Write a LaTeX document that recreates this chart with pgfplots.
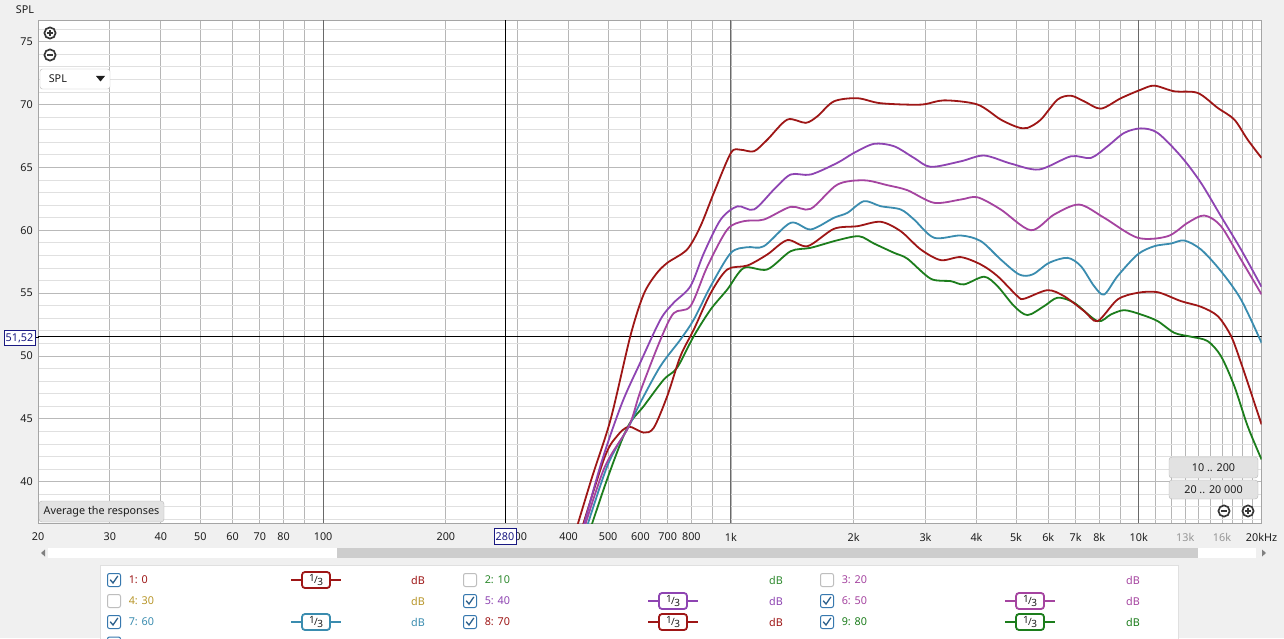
\documentclass[border=0pt]{standalone}
\usepackage{fontspec}
\setmainfont{Noto Sans}
\usepackage{pgfplots}
\pgfplotsset{compat=1.18}
\definecolor{bg}{RGB}{240,240,240}
\definecolor{bordergrey}{RGB}{165,165,165}
\definecolor{vgrid}{RGB}{182,182,182}
\definecolor{hmaj}{RGB}{185,185,185}
\definecolor{hmin}{RGB}{224,224,224}
\definecolor{decade}{RGB}{105,105,105}
\definecolor{cred}{RGB}{158,22,22}
\definecolor{cpurple}{RGB}{142,68,178}
\definecolor{cmag}{RGB}{165,68,160}
\definecolor{cteal}{RGB}{58,140,175}
\definecolor{cgreen}{RGB}{28,125,28}
\definecolor{cgold}{RGB}{184,150,42}
\definecolor{cgreenl}{RGB}{46,138,46}
\definecolor{tickgrey}{RGB}{150,150,150}
\definecolor{navy}{RGB}{25,25,130}
\definecolor{chkblue}{RGB}{55,120,175}
\definecolor{chkgrey}{RGB}{190,190,190}
\definecolor{btnfill}{RGB}{226,226,226}
\definecolor{btnborder}{RGB}{185,185,185}
\definecolor{icon}{RGB}{55,55,55}
\definecolor{txt}{RGB}{30,30,30}
\definecolor{thumb}{RGB}{205,205,205}
\newcommand\uif{\fontsize{10.8}{12}\selectfont}
\newcommand\third{{\fontsize{10}{10}\selectfont\raisebox{1.5pt}{1}\kern-0.6pt/\kern-0.6pt\raisebox{-2pt}{3}}}
\newcommand\cbox[3]{%
  \draw[rounded corners=2, draw=#3, line width=1, fill=white] (#1-6.5,#2-6.5) rectangle (#1+6.5,#2+6.5);}
\newcommand\ccheck[2]{%
  \cbox{#1}{#2}{chkblue}%
  \draw[chkblue!80!black, line width=1.3] (#1-3.8,#2-0.3) -- (#1-1,#2+3) -- (#1+3.8,#2-4);}
\newcommand\badge[3]{%
  \draw[#3, line width=1.6] (#1-25,#2) -- (#1-14,#2) (#1+14,#2) -- (#1+25,#2);
  \draw[#3, line width=1.8, fill=white, rounded corners=3] (#1-14,#2-8) rectangle (#1+14,#2+8);
  \node[text=txt] at (#1,#2) {\third};}
\newcommand\plusicon[2]{%
  \draw[icon, line width=1.7, fill=white] (#1,#2) circle (5.6);
  \draw[icon, line width=1.7] (#1-3.2,#2) -- (#1+3.2,#2) (#1,#2-3.2) -- (#1,#2+3.2);}
\newcommand\minusicon[2]{%
  \draw[icon, line width=1.7, fill=white] (#1,#2) circle (5.6);
  \draw[icon, line width=1.7] (#1-3.2,#2) -- (#1+3.2,#2);}
\begin{document}
\begin{tikzpicture}
\clip (0pt,0pt) rectangle (1284pt,638pt);
\fill[bg] (0pt,0pt) rectangle (1284pt,638pt);
\begin{axis}[
  at={(38pt,115pt)}, anchor=south west,
  scale only axis, width=1223.5pt, height=502.6pt,
  xmode=log, xmin=20, xmax=20000, ymin=36.71, ymax=76.69,
  axis background/.style={fill=white},
  axis line style={draw=bordergrey},
  major tick length=0pt, minor tick length=0pt,
  xtick={20,30,40,50,60,70,80,100,200,300,400,500,600,700,800,1000,2000,3000,4000,5000,6000,7000,8000,10000,13000,16000,20000},
  xticklabels={20,30,40,50,60,70,80,100,200,300,400,500,600,700,800,1k,2k,3k,4k,5k,6k,7k,8k,10k,\textcolor{tickgrey}{13k},\textcolor{tickgrey}{16k},20kHz},
  minor xtick={90,900,9000,11000,12000,14000,15000,17000,18000,19000},
  ytick={40,45,...,75},
  minor ytick={37,38,39,41,42,43,44,46,47,48,49,51,52,53,54,56,57,58,59,61,62,63,64,66,67,68,69,71,72,73,74,76},
  xmajorgrids, xminorgrids, ymajorgrids, yminorgrids,
  major x grid style={draw=vgrid, line width=0.8pt},
  minor x grid style={draw=vgrid, line width=0.8pt},
  major y grid style={draw=hmaj, line width=0.8pt},
  minor y grid style={draw=hmin, line width=0.8pt},
  /pgf/number format/assume math mode=true,
  ticklabel style={font=\uif, text=txt},
  xticklabel style={inner sep=0pt, anchor=center, yshift=-14pt},
  yticklabel style={inner sep=0pt, anchor=east, xshift=-5pt},
]
\addplot[decade, line width=0.9pt] coordinates {(100,36.71) (100,76.69)};
\addplot[decade, line width=0.9pt] coordinates {(1000,36.71) (1000,76.69)};
\addplot[decade, line width=0.9pt] coordinates {(10000,36.71) (10000,76.69)};
\addplot[black, line width=1pt] coordinates {(280,36.71) (280,76.69)};
\addplot[black, line width=1pt] coordinates {(20,51.52) (20000,51.52)};

% 9: 80 green
\addplot[cgreen, line width=1.8pt, smooth] coordinates {
(432,34.3) (497,40.18) (557,44.29) (611,46.0) (685,48.13) (738,49.06) (811,51.58) (892,53.7) (980,55.29) (1076,57.0) (1228,56.88) (1401,58.33) (1569,58.6) (1824,59.2) (2061,59.52) (2243,58.94) (2512,58.2) (2709,57.73) (3090,56.14) (3459,55.95) (3730,55.69) (4177,56.3) (4504,55.55) (4949,53.96) (5336,53.25) (5861,53.96) (6322,54.63) (6944,54.23) (7925,52.77) (8545,53.3) (9210,53.64) (10122,53.3) (11123,52.77) (12218,51.84) (13427,51.53) (14755,51.18) (15906,49.98) (17152,47.6) (18493,44.42) (20000,41.77)};
% 8: 70 red
\addplot[cred, line width=1.8pt, smooth] coordinates {
(412,34.2) (488,41.77) (526,43.63) (562,44.37) (611,43.9) (647,44.29) (698,46.8) (752,49.98) (811,52.1) (892,55.0) (980,56.88) (1097,57.19) (1228,58.07) (1375,59.21) (1541,58.73) (1789,60.11) (2042,60.32) (2329,60.67) (2608,59.92) (2920,58.47) (3270,57.62) (3661,57.86) (4100,57.27) (4504,56.35) (5043,54.75) (5235,54.55) (5974,55.23) (6563,54.75) (7350,53.56) (7925,52.77) (8874,54.49) (9935,55.02) (11123,55.07) (12690,54.36) (14206,53.91) (15615,53.17) (16839,51.58) (17810,49.46) (18848,47.08) (20000,44.55)};
% 7: 60 teal
\addplot[cteal, line width=1.8pt, smooth] coordinates {
(425,34.5) (497,41.2) (562,44.4) (600,46.3) (672,49.2) (752,51.3) (811,52.9) (892,55.55) (1000,58.2) (1097,58.65) (1205,58.73) (1401,60.59) (1569,60.06) (1789,60.99) (1930,61.38) (2120,62.31) (2329,61.91) (2608,61.65) (2812,60.85) (3148,59.4) (3661,59.58) (4100,59.13) (4587,57.67) (5090,56.48) (5490,56.48) (6030,57.41) (6690,57.8) (7213,57.14) (7774,55.55) (8225,54.89) (8874,56.35) (9935,58.07) (10917,58.73) (11994,58.94) (12931,59.18) (14206,58.47) (15906,56.74) (17810,54.49) (20000,51.05)};
% 6: 50 magenta
\addplot[cmag, line width=1.8pt, smooth] coordinates {
(420,34.5) (488,41.0) (562,44.4) (600,47.2) (672,51.3) (724,53.4) (796,53.96) (875,57.1) (980,60.06) (1076,60.72) (1205,60.85) (1401,61.86) (1569,61.7) (1824,63.63) (2120,63.97) (2420,63.58) (2709,63.18) (3148,62.18) (3661,62.44) (4022,62.62) (4587,61.65) (5437,60.0) (6203,61.25) (7143,62.04) (8225,60.99) (9935,59.4) (11772,59.52) (13180,60.59) (14477,61.17) (15906,60.32) (17810,57.67) (20000,54.9)};
% 5: 40 purple
\addplot[cpurple, line width=1.8pt, smooth] coordinates {
(415,34.0) (479,41.3) (540,46.2) (600,49.5) (672,52.9) (724,54.23) (796,55.55) (859,58.2) (944,60.85) (1037,61.9) (1139,61.65) (1275,63.24) (1401,64.43) (1569,64.43) (1824,65.36) (2003,66.15) (2243,66.87) (2512,66.68) (2812,65.75) (3090,65.04) (3661,65.48) (4177,65.94) (4857,65.3) (5698,64.83) (6817,65.88) (7632,65.75) (8386,66.68) (9210,67.74) (10122,68.1) (11123,67.74) (12690,65.88) (14206,63.77) (15906,61.11) (17810,58.47) (20000,55.5)};
% 1: 0 red top
\addplot[cred, line width=1.8pt, smooth] coordinates {
(400,34.2) (455,40.2) (507,44.95) (567,51.6) (611,54.9) (655,56.5) (698,57.4) (781,58.47) (842,60.32) (908,62.97) (1000,66.15) (1056,66.4) (1139,66.28) (1228,67.2) (1375,68.8) (1525,68.54) (1629,69.06) (1789,70.25) (2042,70.5) (2329,70.1) (2920,69.99) (3332,70.33) (4022,70.0) (4587,68.8) (5043,68.2) (5336,68.14) (5754,68.8) (6322,70.39) (6817,70.7) (7350,70.25) (8074,69.67) (9040,70.5) (10122,71.18) (10917,71.5) (12218,71.05) (13946,70.92) (15615,69.73) (17152,68.8) (18493,67.2) (20000,65.75)};
\end{axis}

\begin{scope}[x=1pt, y=1pt, yshift=638pt, yscale=-1]
\uif
% top label
\node[text=txt] at (25,10) {SPL};
% zoom icons
\plusicon{50}{33}
\minusicon{50}{55}
% SPL dropdown
\draw[fill=white, draw=btnborder, rounded corners=2.5] (40,69) rectangle (110,89);
\node[text=txt, anchor=west] at (45,79) {SPL};
\fill[txt] (96,76) -- (105,76) -- (100.5,81.5) -- cycle;
% average button
\draw[fill=btnfill, draw=btnborder, rounded corners=3] (39,501) rectangle (164,522);
\node[text=txt] at (101.5,511.5) {Average the responses};
% range buttons
\draw[fill=btnfill, draw=btnborder, rounded corners=3] (1169,457) rectangle (1258,478);
\node[text=txt] at (1213.5,467.5) {10 .. 200};
\draw[fill=btnfill, draw=btnborder, rounded corners=3] (1169,480) rectangle (1258,499);
\node[text=txt] at (1213.5,489.5) {20 .. 20 000};
\minusicon{1224}{511}
\plusicon{1248}{511}
% cursor labels
\draw[black, line width=1pt] (35,337.2) -- (38.5,337.2);
\node[draw=navy, line width=0.9pt, fill=white, text=navy, minimum width=31pt, minimum height=14.5pt, inner sep=0pt] at (19.5,338) {51,52};
\node[draw=navy, line width=0.9pt, fill=white, text=navy, minimum width=22pt, minimum height=16.5pt, inner sep=0pt] at (505,536.5) {280};
% scrollbar
\fill[white] (48,548) rectangle (1256,558);
\fill[thumb] (337,548) rectangle (1198,558);
\fill[gray] (45,549.5) -- (45,556.5) -- (41,553) -- cycle;
\fill[gray] (1262,549.5) -- (1262,556.5) -- (1266,553) -- cycle;
% legend panel
\draw[fill=white, draw=hmin] (100,565) rectangle (1178,660);
% row 1
\ccheck{114}{580}
\node[text=cred, anchor=west] at (125,580) {1: 0};
\badge{316}{580}{cred}
\node[text=cred] at (418,580) {dB};
\cbox{470}{580}{chkgrey}
\node[text=cgreenl, anchor=west] at (481,580) {2: 10};
\node[text=cgreenl] at (776,580) {dB};
\cbox{827}{580}{chkgrey}
\node[text=cmag, anchor=west] at (838,580) {3: 20};
\node[text=cmag] at (1133,580) {dB};
% row 2
\cbox{114}{601}{chkgrey}
\node[text=cgold, anchor=west] at (125,601) {4: 30};
\node[text=cgold] at (418,601) {dB};
\ccheck{470}{601}
\node[text=cpurple, anchor=west] at (481,601) {5: 40};
\badge{673}{601}{cpurple}
\node[text=cpurple] at (776,601) {dB};
\ccheck{827}{601}
\node[text=cmag, anchor=west] at (838,601) {6: 50};
\badge{1030}{601}{cmag}
\node[text=cmag] at (1133,601) {dB};
% row 3
\ccheck{114}{622}
\node[text=cteal, anchor=west] at (125,622) {7: 60};
\badge{316}{622}{cteal}
\node[text=cteal] at (418,622) {dB};
\ccheck{470}{622}
\node[text=cred, anchor=west] at (481,622) {8: 70};
\badge{673}{622}{cred}
\node[text=cred] at (776,622) {dB};
\ccheck{827}{622}
\node[text=cgreen, anchor=west] at (838,622) {9: 80};
\badge{1030}{622}{cgreen}
\node[text=cgreen] at (1133,622) {dB};
% row 4 (cut off)
\cbox{114}{643.5}{chkblue}
\end{scope}
\end{tikzpicture}
\end{document}
